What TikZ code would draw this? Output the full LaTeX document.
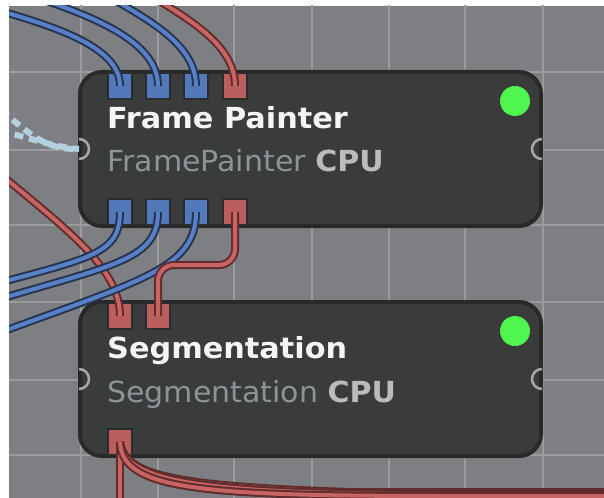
\documentclass[tikz,border=0pt]{standalone}
\usepackage{fontspec}
\setmainfont{DejaVu Sans}
\usepackage{graphicx}
\definecolor{canvas}{RGB}{125,127,130}
\definecolor{gridc}{RGB}{154,155,156}
\definecolor{nodefill}{RGB}{58,59,59}
\definecolor{nodeborder}{RGB}{40,41,41}
\definecolor{portedge}{RGB}{42,44,48}
\definecolor{portblue}{RGB}{82,122,186}
\definecolor{portred}{RGB}{186,94,94}
\definecolor{wireblue}{RGB}{88,128,200}
\definecolor{bwireedge}{RGB}{40,52,78}
\definecolor{wirered}{RGB}{200,100,100}
\definecolor{rwireedge}{RGB}{96,44,44}
\definecolor{ledgreen}{RGB}{80,245,80}
\definecolor{titlec}{RGB}{245,245,245}
\definecolor{classc}{RGB}{140,148,152}
\definecolor{cpuc}{RGB}{185,187,188}
\definecolor{sockc}{RGB}{168,168,168}
\definecolor{dashc}{RGB}{180,208,222}
\begin{document}
\begin{tikzpicture}[x=1bp,y=-1bp,
  nodebox/.style={draw=nodeborder, line width=4bp, fill=nodefill, rounded corners=22bp,
    minimum width=461bp, minimum height=154bp, anchor=north west, inner sep=0pt, outer sep=0pt},
  port/.style={draw=portedge, line width=2bp, minimum width=24bp, minimum height=26bp, inner sep=0pt, outer sep=0pt},
  bport/.style={port, fill=portblue},
  rport/.style={port, fill=portred},
  bwire/.style={draw=bwireedge, line width=2bp, double=wireblue, double distance=4bp},
  rwire/.style={draw=rwireedge, line width=2bp, double=wirered, double distance=4bp},
  dwire/.style={draw=dashc, line width=6bp, dash pattern=on 9bp off 6bp},
  led/.style={circle, fill=ledgreen, minimum size=30bp, inner sep=0pt},
  sock/.style={draw=sockc, line width=2.5bp},
  gridline/.style={draw=gridc, line width=2.5bp},
  title/.style={anchor=base west, inner sep=0pt, text=titlec, font=\fontsize{29bp}{29bp}\selectfont\bfseries},
  sub/.style={anchor=base west, inner sep=0pt, text=classc, font=\fontsize{29bp}{29bp}\selectfont},
]
\useasboundingbox (0,0) rectangle (604,498);
\fill[white] (0,0) rectangle (604,498);
\begin{scope}
\clip (9,6) rectangle (604,498);
\fill[canvas] (9,6) rectangle (604,498);
\foreach \x in {81,158,234,312,389,465,543} \draw[gridline] (\x,0) -- (\x,498);
\foreach \y in {72,150,225,302,380,455} \draw[gridline] (0,\y) -- (604,\y);

% nodes
\node[nodebox] (fp) at (80,72) {};
\node[nodebox] (sg) at (80,302) {};

% sockets
\coordinate (fpL) at (79,149);
\coordinate (fpR) at (542,149);
\coordinate (sgL) at (79,379);
\coordinate (sgR) at (542,379);
\draw[sock] (fpL) ++(0,-10) arc[start angle=-90, end angle=90, radius=10];
\draw[sock] (fpR) ++(0,-10) arc[start angle=-90, end angle=-270, radius=10];
\draw[sock] (sgL) ++(0,-10) arc[start angle=-90, end angle=90, radius=10];
\draw[sock] (sgR) ++(0,-10) arc[start angle=-90, end angle=-270, radius=10];

% leds
\node[led] (fpled) at (515,101) {};
\node[led] (sgled) at (515,331) {};

% texts
\node[title] (fpt) at (107,129) {\scalebox{1.045}[1]{Frame Painter}};
\node[sub] (fps) at (107,172) {\scalebox{1.035}[1]{FramePainter {\bfseries\color{cpuc}CPU}}};
\node[title] (sgt) at (107,358) {\scalebox{1.045}[1]{Segmentation}};
\node[sub] (sgs) at (107,402) {\scalebox{1.035}[1]{Segmentation {\bfseries\color{cpuc}CPU}}};

% ports
\node[bport] (fpi1) at (120,86) {};
\node[bport] (fpi2) at (158,86) {};
\node[bport] (fpi3) at (196,86) {};
\node[rport] (fpi4) at (235,86) {};
\node[bport] (fpo1) at (120,212) {};
\node[bport] (fpo2) at (158,212) {};
\node[bport] (fpo3) at (196,212) {};
\node[rport] (fpo4) at (235,212) {};
\node[rport] (sgi1) at (120,316) {};
\node[rport] (sgi2) at (158,316) {};
\node[rport] (sgo1) at (120,442) {};

% free ends
\coordinate (in1) at (-20,5);
\coordinate (in2) at (20,-8);
\coordinate (in3) at (100,-8);
\coordinate (in4) at (145,-8);
\coordinate (inR) at (-20,157);
\coordinate (out1) at (-20,288);
\coordinate (out2) at (-20,305);
\coordinate (out3) at (-20,340);
\coordinate (outD) at (120,520);
\coordinate (outR1) at (640,492);
\coordinate (outR2) at (640,494);
\coordinate (outR3) at (640,496);
\coordinate (dA) at (-10,100);
\coordinate (dB) at (-10,130);
\coordinate (bend) at (200,265);

% dashed links
\draw[dwire] (dA) .. controls (30,135) and (45,150) .. (fpL);
\draw[dwire, dash phase=5bp] (dB) .. controls (20,133) and (45,146) .. (fpL);

% wires
\draw[bwire] (in1) .. controls (50,25) and (120,45) .. (fpi1.center);
\draw[bwire] (in2) .. controls (90,15) and (158,40) .. (fpi2.center);
\draw[bwire] (in3) .. controls (150,20) and (196,45) .. (fpi3.center);
\draw[rwire] (in4) .. controls (190,20) and (235,45) .. (fpi4.center);
\draw[rwire] (inR) .. controls (60,225) and (120,265) .. (sgi1.center);
\draw[bwire] (fpo1.center) .. controls (120,255) and (90,258) .. (out1);
\draw[bwire] (fpo2.center) .. controls (158,262) and (110,265) .. (out2);
\draw[bwire] (fpo3.center) .. controls (196,270) and (140,280) .. (out3);
\draw[rwire, rounded corners=16bp] (fpo4.center) |- (bend) -| (sgi2.center);
\draw[rwire] (sgo1.center) -- (outD);
\draw[rwire] (sgo1.center) .. controls (125,475) and (170,486) .. (350,492) -- (outR1);
\draw[rwire] (sgo1.center) .. controls (125,480) and (190,492) .. (400,494) -- (outR2);
\draw[rwire] (sgo1.center) .. controls (122,490) and (200,496) .. (450,496) -- (outR3);
\end{scope}
\end{tikzpicture}
\end{document}
